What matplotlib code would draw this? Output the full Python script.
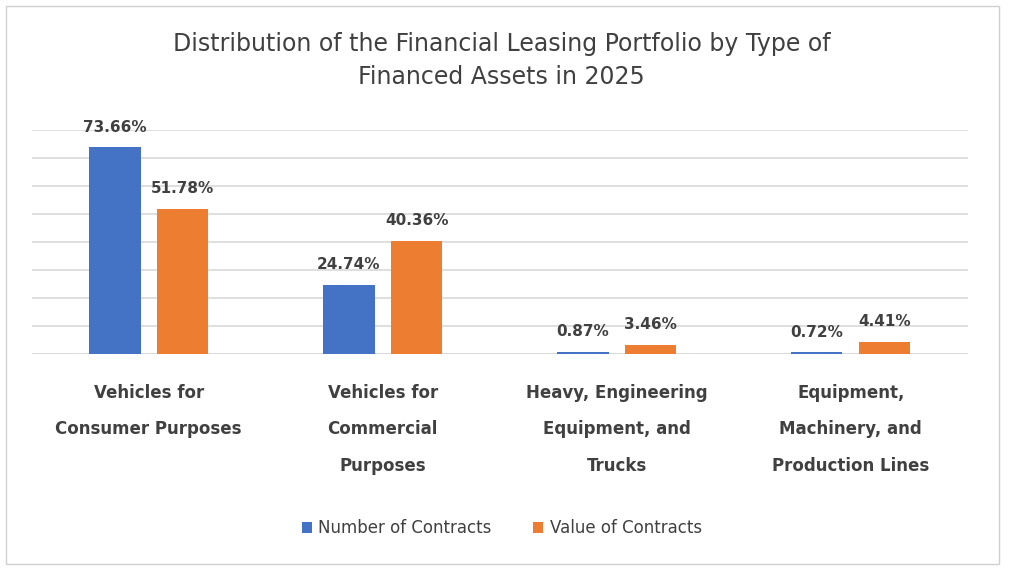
import matplotlib.pyplot as plt
import numpy as np
from matplotlib.patches import Rectangle

categories = ["Vehicles for\nConsumer Purposes", "Vehicles for\nCommercial\nPurposes",
              "Heavy, Engineering\nEquipment, and\nTrucks", "Equipment,\nMachinery, and\nProduction Lines"]
num_contracts = [73.66, 24.74, 0.87, 0.72]
val_contracts = [51.78, 40.36, 3.46, 4.41]

blue = "#4472C4"
orange = "#ED7D31"

fig = plt.figure(figsize=(10.24, 5.76), dpi=100)
fig.patches.append(Rectangle((0.006, 0.02), 0.97, 0.97, transform=fig.transFigure,
                             fill=False, edgecolor="#d0d0d0", lw=1))
ax = fig.add_axes([0.031, 0.385, 0.914, 0.39])

x = np.arange(len(categories))
w = 0.22
b1 = ax.bar(x - 0.145, num_contracts, w, color=blue, label="Number of Contracts", zorder=3)
b2 = ax.bar(x + 0.145, val_contracts, w, color=orange, label="Value of Contracts", zorder=3)

for bars, vals in ((b1, num_contracts), (b2, val_contracts)):
    for r, v in zip(bars, vals):
        ax.text(r.get_x() + r.get_width() / 2, v + 4.5, f"{v:.2f}%", ha="center", va="bottom",
                fontsize=11, fontweight="bold", color="#404040")

ax.set_ylim(0, 80)
ax.set_xlim(-0.5, 3.5)
ax.set_yticks(np.arange(0, 81, 10))
ax.yaxis.grid(True, color="#d9d9d9", lw=1.2, zorder=0)
ax.tick_params(left=False, labelleft=False, bottom=False, pad=18)
ax.set_xticks(x)
ax.set_xticklabels(categories, fontsize=12, fontweight="bold", color="#404040", linespacing=2.3)
for s in ax.spines.values():
    s.set_visible(False)
ax.axhline(0, color="#d9d9d9", lw=1.2)

fig.text(0.49, 0.895, "Distribution of the Financial Leasing Portfolio by Type of\nFinanced Assets in 2025",
         ha="center", va="center", fontsize=17, color="#404040", linespacing=1.5)
fig.legend(loc="center", bbox_to_anchor=(0.49, 0.083), ncol=2, frameon=False, fontsize=12,
           handlelength=0.6, handleheight=0.6, columnspacing=2.5, handletextpad=0.4,
           labelcolor="#404040")
fig.savefig("out.png")
